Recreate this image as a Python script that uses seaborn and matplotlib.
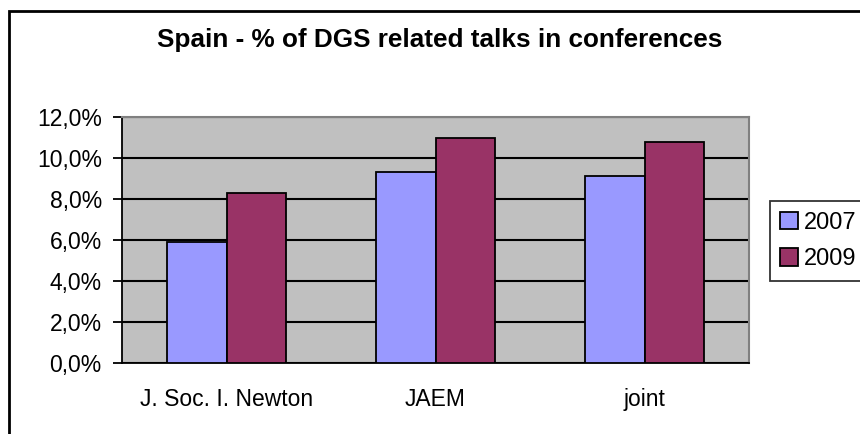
import pandas as pd
import matplotlib.pyplot as plt
import matplotlib.patches as mpatches
import seaborn as sns

# chart values
venues = ["J. Soc. I. Newton", "JAEM", "joint"]
years = ["2007", "2009"]
pct_2007 = [5.9, 9.3, 9.1]
pct_2009 = [8.3, 11.0, 10.8]
y_ticks = [0, 2, 4, 6, 8, 10, 12]
y_tick_labels = ["0,0%", "2,0%", "4,0%", "6,0%", "8,0%", "10,0%", "12,0%"]

df = pd.DataFrame({
    "venue": venues * 2,
    "year": [years[0]] * 3 + [years[1]] * 3,
    "pct": pct_2007 + pct_2009,
})

sns.set_style("white")
plt.rcParams["font.family"] = ["Liberation Sans", "DejaVu Sans"]
plt.rcParams["text.color"] = "black"
plt.rcParams["xtick.color"] = "black"
plt.rcParams["ytick.color"] = "black"
plt.rcParams["axes.labelcolor"] = "black"

fig = plt.figure(figsize=(8.6, 4.34), dpi=100)
ax = fig.add_axes([122 / 860, 1 - 363 / 434, 627 / 860, 246 / 434])

sns.barplot(data=df, x="venue", y="pct", hue="year", order=venues,
            hue_order=years, palette=["#9999FF", "#993366"], width=0.57,
            edgecolor="black", linewidth=1.3, saturation=1, ax=ax, zorder=3)

ax.set_facecolor("#C0C0C0")
ax.set_xlim(-0.5, 2.5)
ax.set_ylim(0, 12)
ax.set_yticks(y_ticks)
ax.set_yticklabels(y_tick_labels, fontsize=16.5)
ax.yaxis.grid(True, color="black", linewidth=1.5, zorder=1)
ax.set_axisbelow(True)
ax.set_xlabel("")
ax.set_ylabel("")

# category ticks sit between groups
ax.set_xticks(range(len(venues)))
ax.set_xticklabels(venues, fontsize=16.5)
ax.tick_params(axis="x", which="major", length=0, pad=18)
ax.set_xticks([-0.5, 0.5, 1.5, 2.5], minor=True)
ax.tick_params(axis="x", which="minor", length=7, width=1.3, color="black", direction="out")
ax.tick_params(axis="y", length=6.5, width=1.3, color="black", direction="out", pad=8, left=True)

for side in ["left", "bottom"]:
    ax.spines[side].set_color("black")
    ax.spines[side].set_linewidth(1.3)
for side in ["top", "right"]:
    ax.spines[side].set_color("#808080")
    ax.spines[side].set_linewidth(1.5)

leg = ax.legend(loc="upper left", bbox_to_anchor=(1.033, 0.657), fontsize=17,
                frameon=True, fancybox=False, edgecolor="black",
                handlelength=0.75, handleheight=0.75, handletextpad=0.25,
                borderpad=0.45, labelspacing=0.6, borderaxespad=0)
leg.get_frame().set_linewidth(1.3)

fig.text(440 / 860, 1 - 40 / 434, "Spain - % of DGS related talks in conferences",
         ha="center", va="center", fontsize=18.8, fontweight="bold", color="black")

# outer chart frame, cut off at the right and bottom like the source image
fig.patches.append(mpatches.Rectangle((9 / 860, -0.1), 1.1, 1 - 11 / 434 + 0.1,
                                      transform=fig.transFigure, fill=False,
                                      edgecolor="black", linewidth=2, clip_on=False))

fig.savefig("out.png", dpi=100)
